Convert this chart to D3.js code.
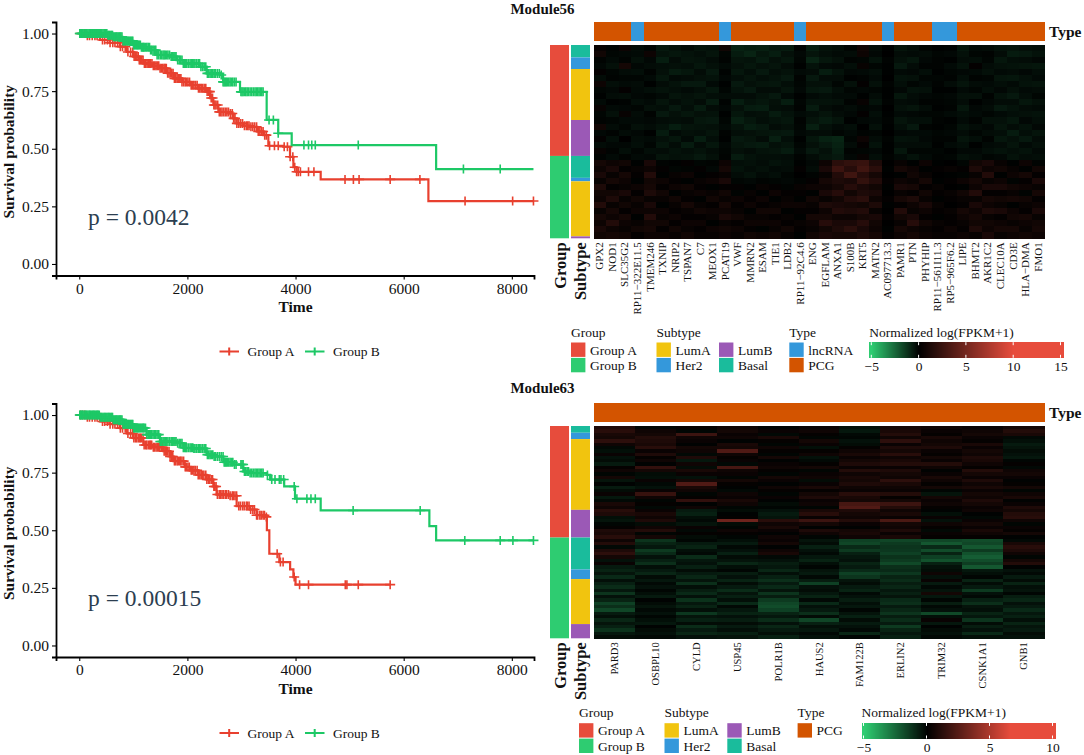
<!DOCTYPE html>
<html>
<head>
<meta charset="utf-8">
<script src="https://cdn.jsdelivr.net/npm/d3@7"></script>
<style>
  html, body { margin: 0; padding: 0; background: #fff; }
  svg { display: block; }
  text { font-family: "Liberation Serif", serif; fill: #111; }
</style>
</head>
<body>
<svg id="chart" width="1084" height="755"></svg>
<script>
/* survival curves */
const km56TimeA = [0,150,383,560,753,880,1000,1100,1185,1350,1493,1620,1740,1900,2048,2200,2357,2420,2480,2573,2788,2850,2911,3030,3158,3290,3405,3497,3775,3898,3960,4020,4465,6457,8400];
const km56SurvA = [1,.99,.972,.96,.943,.92,.90,.885,.87,.86,.849,.828,.805,.79,.776,.762,.748,.72,.69,.66,.653,.632,.61,.60,.595,.575,.559,.513,.509,.465,.42,.40,.367,.273,.273];
const km56TimeB = [0,383,520,629,800,1000,1150,1307,1431,1678,1800,1925,2233,2357,2603,2660,2942,2973,3435,3466,3680,3929,6600,8400];
const km56SurvB = [1,1,.993,.986,.968,.95,.94,.928,.907,.90,.885,.87,.856,.827,.82,.79,.79,.747,.747,.625,.567,.516,.412,.412];
const km63TimeA = [0,150,383,560,753,880,1000,1185,1350,1553,1680,1740,1950,2048,2200,2357,2480,2540,2788,2911,3158,3280,3435,3470,3515,3700,3900,3960,4000,5750];
const km63SurvA = [1,.99,.972,.96,.943,.92,.90,.87,.86,.843,.82,.80,.775,.76,.74,.72,.69,.655,.65,.605,.59,.565,.558,.50,.398,.362,.33,.297,.264,.264];
const km63TimeB = [0,383,629,800,1000,1246,1493,1800,1925,2110,2357,2480,2665,2850,3035,3158,3465,3530,3760,3790,3965,3990,4465,6475,6600,8400];
const km63SurvB = [1,.99,.98,.96,.944,.915,.885,.878,.858,.855,.828,.82,.795,.785,.755,.748,.74,.72,.72,.69,.69,.637,.586,.518,.456,.456];

/* censored times */
const censor56A = [20,60,100,150,190,240,290,330,380,430,470,520,570,620,660,710,760,800,850,900,950,990,1040,1090,1130,1180,1230,1280,1320,1370,1420,1470,1520,1570,1610,1660,1710,1760,1810,1860,1900,1960,2010,2070,2120,2180,2230,2280,2340,2390,2440,2490,2530,2590,2640,2700,2760,2830,2880,2950,3020,3090,3140,3210,3280,3340,3400,3460,3520,3610,3680,3790,3850,3900,3950,3985,4020,4050,4090,4240,4340,4915,5070,5175,5750,6300,7135,8015,8400,
    1015,1065,1110,1155,1205,1255,1300,1345,1395,1445,1495,1545,1590,1635,1685,1735,1785,1835,1880,1930,1985,2040,2095,2150,2205,2255,2310,2365,2415,2465,2510,2560,2615,2670,2730,2795,2855,2915,2985,3055,3115,3175,3245,3310,3370,3430];
const censor56B = [10,40,70,110,140,180,210,250,280,320,350,390,420,460,490,530,560,600,630,670,700,740,770,810,840,880,910,950,990,1020,1060,1090,1130,1170,1200,1250,1300,1340,1390,1440,1500,1550,1590,1640,1700,1750,1790,1850,1900,1950,1990,2050,2100,2140,2200,2250,2310,2370,2420,2470,2520,2590,2660,2700,2740,2790,2840,2900,2990,3030,3080,3130,3190,3250,3300,3350,3400,3510,3590,3680,4155,4240,4300,4365,5160,7105,7785,
    25,55,90,125,160,195,230,265,300,335,370,405,440,475,510,545,580,615,650,685,720,755,790,825,860,895,930,970,1005,1040,1075,1110,1150,1185,1225,1275,1320,1365,1415,1470,1525,1570,1615,1670,1725,1770,1820,1875,1925,1970,2020,2075,2120,2170,2225,2280,2340,2395,2445,2495,2555,2625,2680,2720,2765,2815,2870,3010,3055,3105,3160,3220,3275,3325,3375];
const censor63A = [20,60,100,150,190,240,290,330,380,430,470,520,570,620,660,710,760,800,850,900,950,990,1040,1090,1130,1180,1230,1280,1320,1370,1420,1470,1520,1570,1610,1660,1710,1760,1810,1860,1900,1960,2010,2070,2120,2180,2230,2280,2340,2390,2440,2490,2530,2590,2640,2700,2760,2830,2880,2950,3020,3090,3140,3210,3280,3340,3400,3460,3660,3720,3770,3975,4075,4240,4920,4950,5160,5750,
    1010,1060,1115,1150,1200,1250,1305,1340,1390,1445,1490,1540,1595,1630,1680,1730,1780,1830,1875,1930,1980,2035,2090,2145,2200,2255,2305,2360,2410,2465,2505,2555,2610,2665,2725,2790,2850,2910,2980,3050,3110,3170,3240,3300,3365,3425];
const censor63B = [10,40,70,110,140,180,210,250,280,320,350,390,420,460,490,530,560,600,630,670,700,740,770,810,840,880,910,950,990,1020,1060,1090,1130,1170,1200,1250,1300,1340,1390,1440,1500,1550,1590,1640,1700,1750,1790,1850,1900,1950,1990,2050,2100,2140,2200,2250,2310,2370,2420,2470,2520,2590,2660,2700,2740,2790,2840,2900,2990,3030,3080,3130,3190,3250,3300,3350,3400,3480,3560,3620,3700,3730,3780,3975,4025,4210,4285,4365,5065,6305,7130,7785,8020,8400,
    25,55,90,125,160,195,230,265,300,335,370,405,440,475,510,545,580,615,650,685,720,755,790,825,860,895,930,970,1005,1040,1075,1110,1150,1185,1225,1275,1320,1365,1415,1470,1525,1570,1615,1670,1725,1770,1820,1875,1925,1970,2020,2075,2120,2170,2225,2280,2340,2395,2445,2495,2555,2625,2680,2720,2765,2815,2870,3010,3055,3105,3160,3220,3275,3325,3375];

/* heatmap genes and annotations */
const genes56 = ["GPX2","NOD1","SLC35G2","RP11−322E11.5","TMEM246","TXNIP","NRIP2","TSPAN7","C7","MEOX1","PCAT19","VWF","MMRN2","ESAM","TIE1","LDB2","RP11−92C4.6","ENG","EGFLAM","ANXA1","S100B","KRT5","MATN2","AC097713.3","PAMR1","PTN","PHYHIP","RP11−561I11.3","RP5−965F6.2","LIPE","BHMT2","AKR1C2","CLEC10A","CD3E","HLA−DMA","FMO1"];
const types56 = ["PCG","PCG","PCG","lncRNA","PCG","PCG","PCG","PCG","PCG","PCG","lncRNA","PCG","PCG","PCG","PCG","PCG","lncRNA","PCG","PCG","PCG","PCG","PCG","PCG","lncRNA","PCG","PCG","PCG","lncRNA","lncRNA","PCG","PCG","PCG","PCG","PCG","PCG","PCG"];
const genes63 = ["PARD3","OSBPL10","CYLD","USP45","POLR1B","HAUS2","FAM122B","ERLIN2","TRIM32","CSNK1A1","GNB1"];
const types63 = genes63.map(() => "PCG");

const samples56 = ["Basal","Her2","LumA","LumB","Basal","Her2","LumA","LumB"];
const sampleCounts56 = [71,66,291,205,125,20,314,11];
const samples63 = ["Basal","Her2","LumA","LumB","Basal","Her2","LumA","LumB"];
const sampleCounts63 = [35,33,368,144,166,50,234,74];
const groupCounts56 = [633,470];
const groupCounts63 = [580,524];

/* expression estimates, samples by genes (unitNeg / unitPos below turn them into log units) */
const expr56 = [
[2,-2,3,-6,-3,-12,-9,-6,-10,-9,4,-16,-14,-15,-12,-13,-2,-14,-9,-7,-3,4,-6,-1,-10,-7,-3,-1,-2,-11,-5,-6,-9,-10,-8,-7],
[4,-3,-4,-5,3,-9,-11,-9,-7,-10,-3,-13,-17,-11,-14,-8,-4,-10,-7,-5,-6,3,-4,0,-6,-5,-6,-3,-4,-8,-3,-2,-6,-13,-12,-9],
[-2,-5,-2,-8,-4,-14,-6,-10,-9,-6,-2,-10,-9,-13,-8,-11,-3,-17,-11,-8,-2,-3,-9,-2,-8,-11,-4,-2,-1,-6,-7,-3,-11,-7,-6,-4],
[-4,-8,5,-4,-6,-7,-8,-7,-11,-8,-5,-8,-11,-8,-10,-6,-1,-9,-5,-4,-7,2,-3,-1,-12,-6,-2,-2,-5,-9,1,-6,-8,-9,-10,-11],
[1,-3,-6,-7,-2,-8,-13,-11,-6,-12,-2,-11,-7,-12,-7,-9,-5,-6,-14,-9,-4,-5,-7,-1,-5,-4,-7,-1,-3,-4,-5,-8,-5,-6,-4,-7],
[-6,-2,-3,-3,-5,-11,-5,-6,-8,-9,-4,-7,-10,-7,-9,-12,-2,-12,-6,-6,-1,-2,-5,0,-9,-8,-3,-3,-2,-7,-2,-3,-10,-11,-8,-5],
[3,-7,-5,-6,-1,-6,-9,-12,-12,-5,-1,-12,-8,-10,-11,-7,-3,-8,-8,-3,-8,1,-8,-2,-7,-3,-5,-2,-6,-10,-6,-5,-7,-5,-9,-10],
[-3,-4,1,-5,-7,-9,-7,-5,-7,-11,-3,-9,-12,-6,-6,-10,-4,-11,-12,-7,-3,-4,-3,-1,-4,-9,-8,-1,-1,-5,-3,-7,-4,-8,-5,-6],
[-1,-6,-7,-4,-3,-5,-10,-8,-10,-7,-6,-6,-6,-9,-12,-5,-1,-5,-7,-5,-5,-1,-6,-1,-11,-6,-4,-3,-4,-8,-8,-2,-9,-12,-7,-3],
[-5,-1,-2,-7,-5,-10,-6,-9,-6,-13,-2,-14,-9,-11,-8,-14,-3,-9,-9,-8,-2,2,-9,-2,-6,-5,-2,-2,-3,-6,-1,-4,-6,-6,-11,-8],
[2,-5,-4,-3,-8,-7,-12,-7,-13,-6,-4,-8,-13,-14,-7,-6,-2,-13,-6,-4,-6,-3,-4,0,-8,-10,-6,-1,-2,-11,-4,-6,-12,-9,-6,-5],
[-3,-8,2,-6,-2,-12,-8,-11,-8,-9,-1,-11,-7,-8,-13,-9,-5,-7,-10,-6,-4,1,-7,-1,-5,-4,-3,-3,-5,-7,-5,-3,-5,-7,-8,-9],
[-2,-3,-5,-5,-4,-6,-7,-6,-11,-12,-3,-15,-11,-7,-9,-11,-2,-10,-13,-10,-1,-4,-5,-2,-10,-7,-7,-2,-1,-5,-2,-8,-8,-11,-4,-7],
[4,-6,-3,-8,-6,-9,-14,-10,-9,-8,-5,-9,-14,-12,-6,-8,-3,-15,-8,-5,-7,0,-8,-1,-7,-12,-2,-1,-3,-9,-6,-4,-10,-6,-9,-4],
[-4,-2,-6,-4,-1,-13,-5,-8,-7,-10,-2,-7,-8,-10,-11,-12,-4,-6,-6,-3,-5,-2,-3,0,-4,-5,-5,-3,-4,-6,-3,-6,-7,-13,-7,-10],
[1,-7,0,-6,-5,-8,-11,-5,-14,-7,-1,-12,-10,-6,-15,-7,-1,-11,-16,-18,-3,3,-6,-2,-9,-8,-4,-2,-2,-10,-7,-2,-11,-8,-12,-6],
[-6,-4,-4,-7,-3,-11,-6,-13,-6,-11,-4,-10,-12,-13,-8,-10,-3,-8,-12,-16,-6,1,-9,-1,-6,-6,-6,-1,-5,-7,-1,-5,-6,-10,-5,-8],
[2,-2,-7,-3,-7,-6,-9,-7,-9,-6,-3,-8,-6,-9,-10,-13,-5,-12,-8,-14,-2,-3,-4,-1,-11,-3,-3,-3,-1,-4,-4,-7,-9,-7,-9,-5],
[-2,-5,-2,-5,-4,-10,-8,-9,-12,-8,-2,-13,-9,-7,-7,-6,-2,-6,-10,-12,-4,2,-7,-2,-5,-9,-5,-2,-3,-8,-6,-3,-4,-9,-6,-7],
[5,3,4,-1,6,-2,-1,1,-3,-2,3,-7,-8,-6,-9,-7,-1,-4,3,10,12,13,7,0,2,-1,3,-1,0,-3,4,6,2,-1,3,-2],
[3,6,1,2,3,1,-3,-2,1,-4,5,-9,-6,-8,-5,-6,1,-6,6,14,9,15,10,-1,5,3,-1,1,2,1,7,3,4,2,-1,4],
[6,2,5,1,8,-1,2,3,-1,1,2,-6,-9,-5,-7,-3,0,-2,2,8,15,9,5,0,-1,4,2,0,-1,-2,2,8,-1,3,5,1],
[2,5,3,-1,4,3,1,-1,2,3,6,-3,-4,-2,-3,-4,-2,1,5,7,6,12,8,1,3,2,5,-1,1,3,5,2,3,-2,1,6],
[7,1,2,3,5,1,3,4,1,-1,1,1,-1,2,1,-2,2,3,3,5,9,6,4,-1,6,5,1,2,0,-1,3,6,6,4,3,2],
[4,4,6,1,7,4,-1,2,3,2,4,-2,2,-1,3,1,1,-1,6,9,4,7,6,0,2,1,4,1,2,4,8,1,1,2,-2,5],
[3,7,2,4,2,2,4,1,-1,4,2,3,1,3,-1,2,-1,4,2,4,8,10,3,1,5,7,2,-1,1,2,2,5,4,5,4,1],
[8,2,4,2,6,-1,2,5,2,1,5,1,3,1,2,3,3,2,7,6,5,4,7,-1,1,3,6,2,0,1,6,3,2,-1,2,3],
[2,5,1,3,3,3,1,2,4,3,3,2,-1,4,4,-1,1,1,3,8,7,8,2,0,8,2,3,1,2,5,3,7,6,3,1,6],
[5,3,5,-1,8,2,3,1,1,2,6,4,2,2,1,2,-1,5,5,3,3,5,6,1,4,6,1,-1,1,3,5,2,1,4,5,2],
[3,8,3,2,4,4,1,3,3,-1,2,1,3,3,3,1,2,3,9,6,6,9,4,0,2,9,4,2,1,2,4,4,3,2,3,4],
[6,3,2,4,5,1,4,2,1,3,4,3,1,-1,2,4,1,2,4,7,10,6,3,-1,5,3,2,1,3,1,7,3,5,5,2,5],
[4,5,4,1,3,3,2,4,2,2,3,2,4,3,4,2,-1,4,6,5,5,7,5,1,3,5,3,2,2,3,2,6,2,3,4,3]
];
const expr63 = [
[6,-2,1,3,-1,2,-5,4,3,2,4],
[8,3,-2,4,2,3,-8,5,2,3,7],
[5,4,12,2,-3,1,-3,7,1,4,5],
[4,7,3,3,5,-2,-2,3,5,2,-3],
[9,6,2,-1,1,4,-6,9,3,1,-5],
[3,5,-1,5,-2,2,-4,2,4,5,-9],
[-3,8,4,4,3,-5,1,6,6,2,-7],
[-5,2,3,16,1,1,3,4,2,4,-4],
[2,6,-3,3,-2,3,5,8,1,3,-6],
[-6,1,6,1,4,-6,2,3,4,6,-8],
[-4,3,-8,2,-1,-3,4,5,2,5,-2],
[-9,-1,3,-3,2,1,6,7,7,3,1],
[1,10,-4,14,3,4,2,2,3,1,-3],
[3,4,5,3,1,-2,7,6,-1,7,3],
[-2,-4,2,2,-2,2,3,4,2,4,4],
[4,-5,-6,-2,4,3,5,3,5,2,2],
[-7,2,4,4,2,-4,4,9,3,6,-1],
[-1,-3,16,1,-1,2,6,5,1,3,1],
[-9,-6,5,-1,3,5,3,3,4,5,4],
[-4,2,3,-3,1,1,2,2,-2,2,-2],
[2,11,-2,3,-2,4,8,7,-7,4,3],
[-8,3,1,2,2,6,5,1,4,3,5],
[-3,-2,10,5,-1,2,4,4,2,6,-1],
[5,1,-1,3,-4,3,14,12,3,4,2],
[3,-3,3,-2,-2,-2,16,7,1,2,6],
[8,2,-9,-4,-6,5,6,3,-1,3,4],
[6,5,-11,-1,-9,8,4,5,-5,-1,7],
[-5,3,-5,1,-7,2,3,2,2,-3,8],
[-7,6,-3,22,8,12,7,15,-6,2,3],
[-2,-4,-7,-4,3,4,2,4,3,4,-2],
[1,3,2,-2,5,-1,-1,3,1,2,2],
[6,7,-3,3,2,6,4,6,-3,5,1],
[5,-2,1,1,-1,3,5,2,2,3,4],
[8,4,-4,-2,3,-2,3,5,1,1,-1],
[3,-18,-2,-5,2,-7,-22,-24,-24,-26,-3],
[7,-12,-9,-9,4,-4,-24,-20,-30,-24,5],
[-3,-8,-12,-3,-1,-11,-14,-18,-14,-30,8],
[6,-20,-5,-6,3,-6,-20,-19,-26,-20,6],
[9,-14,-3,-11,5,-3,-11,-22,-12,-28,3],
[4,-6,-15,-4,-3,-8,-8,-17,-22,-32,-2],
[-6,-11,-8,-7,-6,-12,-6,-20,-28,-26,4],
[2,-16,-6,-13,-10,-5,-12,-25,-11,-21,7],
[-9,-5,-11,-5,-8,-2,-9,-16,-6,-30,-1],
[-12,-9,-4,-2,-13,-7,-14,-14,-4,-8,-6],
[-7,-13,-9,-10,-5,-9,-22,-19,3,-5,-3],
[-14,-4,-13,-6,-11,-3,-18,-12,-6,-2,-9],
[-5,-8,-7,-12,-16,-10,-7,-15,2,-12,-4],
[-11,-3,-16,-4,-9,-22,-4,-10,-9,-4,-12],
[-15,-6,-5,-9,-14,-6,-9,-13,-3,-9,-5],
[-8,-2,-10,-15,-7,-4,-12,-8,-7,-20,-7],
[-18,-5,-14,-7,-18,-8,-3,-11,4,-6,-2],
[-6,-9,-6,-11,-10,-12,-6,-7,-8,-3,-10],
[-12,-1,-17,-5,-20,-3,-10,-14,-2,-11,-13],
[-22,-4,-8,-14,-24,-14,-5,-16,-10,-16,-6],
[-16,-7,-12,-3,-26,-6,-8,-9,-3,-7,-9],
[-24,-3,-5,-8,-22,-9,-2,-13,-6,-5,-14],
[-9,-6,-19,-12,-12,-16,-7,-18,-25,-12,-8],
[-5,-2,-7,-6,-8,-4,-11,-10,-5,-8,-11],
[-13,-5,-11,-10,-15,-24,-4,-15,2,-18,-5],
[-7,-8,-4,-4,-6,-11,-9,-9,-8,-4,-12],
[-11,-1,-15,-9,-13,-5,-6,-20,-1,-10,-7],
[-17,-4,-9,-5,-9,-8,-3,-12,-4,-6,-9],
[-8,-6,-13,-11,-5,-3,-13,-8,-6,-14,-4],
[-4,-3,-6,-7,-11,-6,-2,-11,-3,-5,-6]
];

const colors = { "Group A": "#e74c3c", "Group B": "#2ecc71", LumA: "#f1c40f", Her2: "#3498db", LumB: "#9b59b6", Basal: "#1abc9c", lncRNA: "#3498db", PCG: "#d35400" };
const lineRed = "#e8402f", lineGreen = "#1dc866";

const svg = d3.select("#chart");

function stepValue(times, surv, t) {
    const i = d3.bisectRight(times, t) - 1;
    return surv[Math.max(0, i)];
}

function drawKm(o) {
    const g = svg.append("g");
    const x = d3.scaleLinear().domain([-430, 8410]).range([56, 534]);
    const y = d3.scaleLinear().domain([-0.05, 1.05]).range([o.bottom, o.bottom - 253.5]);

    const curves = [
        { times: o.timeA, surv: o.survA, cens: o.censA, color: lineRed },
        { times: o.timeB, surv: o.survB, cens: o.censB, color: lineGreen }
    ];
    curves.forEach(c => {
        const line = d3.line().x(d => x(d[0])).y(d => y(d[1])).curve(d3.curveStepAfter);
        g.append("path")
            .attr("d", line(c.times.map((t, i) => [t, c.surv[i]])))
            .attr("fill", "none").attr("stroke", c.color).attr("stroke-width", 2.2);
        g.selectAll(null).data(c.cens).enter().append("path")
            .attr("d", d => {
                const px = x(d), py = y(stepValue(c.times, c.surv, d));
                return `M${px},${py - 4.5}V${py + 4.5}M${px - 5},${py}H${px + 5}`;
            })
            .attr("stroke", c.color).attr("stroke-width", 1.6).attr("fill", "none");
    });

    const yAxis = g.append("g").attr("transform", "translate(56,0)")
        .call(d3.axisLeft(y).tickValues([0, .25, .5, .75, 1]).tickFormat(d3.format(".2f")).tickSizeOuter(0).tickSize(4).tickPadding(3));
    const xAxis = g.append("g").attr("transform", `translate(0,${o.bottom})`)
        .call(d3.axisBottom(x).tickValues([0, 2000, 4000, 6000, 8000]).tickFormat(d3.format("d")).tickSizeOuter(0).tickSize(4).tickPadding(3));
    [yAxis, xAxis].forEach(a => {
        a.selectAll("text").style("font-family", "Liberation Serif").style("font-size", "15.5px").attr("fill", "#111");
        a.select(".domain").attr("stroke", "#000").attr("stroke-width", 1.8);
        a.selectAll(".tick line").attr("stroke", "#000").attr("stroke-width", 1.1);
    });

    g.append("text").attr("transform", `translate(14,${y(0.5) + 3}) rotate(-90)`)
        .attr("text-anchor", "middle").style("font-size", "15.5px").style("font-weight", "bold").text("Survival probability");
    g.append("text").attr("x", 295.5).attr("y", o.bottom + 36.5).attr("text-anchor", "middle")
        .style("font-size", "15.5px").style("font-weight", "bold").text("Time");
    g.append("text").attr("x", 88).attr("y", y(o.pValue) + 1).style("font-size", "23.5px").style("fill", "#2c3e50").text(o.pText);

    // line legend under the curves
    const ly = o.bottom + 76;
    [[219.5, 247.5, "Group A", lineRed], [305, 333, "Group B", lineGreen]].forEach(k => {
        g.append("path").attr("d", `M${k[0]},${ly}h19.5M${k[0] + 9.7},${ly - 4}v8`)
            .attr("stroke", k[3]).attr("stroke-width", 2).attr("fill", "none");
        g.append("text").attr("x", k[1]).attr("y", ly + 4.5).style("font-size", "13.5px").text(k[2]);
    });
}

function stackBar(g, x, w, top, bottom, names, counts) {
    const y = d3.scaleLinear().domain([0, d3.sum(counts)]).range([top, bottom]);
    let acc = 0;
    names.forEach((n, i) => {
        g.append("rect").attr("x", x).attr("width", w)
            .attr("y", y(acc)).attr("height", y(acc + counts[i]) - y(acc)).attr("fill", colors[n]);
        acc += counts[i];
    });
}

function drawHeat(o) {
    const g = svg.append("g");
    const left = 593.7, right = 1044.3;
    const x = d3.scaleBand().domain(o.genes).range([left, right]);
    const y = d3.scaleBand().domain(d3.range(o.expr.length)).range([o.top, o.bottom]);
    const color = d3.scaleLinear().domain([-5, 0, o.sat, o.max]).range(["#2ecc71", "#000", "#e74c3c", "#e74c3c"]);

    o.expr.forEach((row, r) => {
        g.selectAll(null).data(row).enter().append("rect")
            .attr("x", (d, i) => x(o.genes[i])).attr("y", y(r))
            .attr("width", x.bandwidth() + 0.4).attr("height", y.bandwidth() + 0.4)
            .attr("shape-rendering", "crispEdges")
            .attr("fill", d => color(d < 0 ? d / o.unitNeg : d / o.unitPos));
    });

    // type strip
    o.types.forEach((t, i) => {
        g.append("rect").attr("x", x(o.genes[i])).attr("width", x.bandwidth() + 0.4)
            .attr("y", o.typeTop).attr("height", 19.3).attr("fill", colors[t])
            .attr("shape-rendering", "crispEdges");
    });
    g.append("text").attr("x", 1049).attr("y", o.typeTop + 15).style("font-size", "15.5px").style("font-weight", "bold").text("Type");

    // sample strips
    stackBar(g, 550, 19, o.top, o.bottom, ["Group A", "Group B"], o.groupCounts);
    stackBar(g, 571, 19, o.top, o.bottom, o.samples, o.sampleCounts);

    g.append("text").attr("transform", `translate(565.5,${o.bottom + 4}) rotate(-90)`)
        .attr("text-anchor", "end").style("font-size", "16.5px").style("font-weight", "bold").text("Group");
    g.append("text").attr("transform", `translate(585.5,${o.bottom + 4}) rotate(-90)`)
        .attr("text-anchor", "end").style("font-size", "16.5px").style("font-weight", "bold").text("Subtype");

    // gene names
    g.selectAll(null).data(o.genes).enter().append("text")
        .attr("transform", d => `translate(${x(d) + x.bandwidth() / 2 + 3.5},${o.bottom + 4}) rotate(-90)`)
        .attr("text-anchor", "end").style("font-size", o.geneSize + "px").text(d => d);

    // annotation legends
    const L = o.legend, sw = 14.4, rowH = 15.4;
    const head = (tx, s) => g.append("text").attr("x", tx).attr("y", L.y + 4.5).style("font-size", "13.5px").text(s);
    const item = (sx, row, name) => {
        g.append("rect").attr("x", sx).attr("y", L.y + 10.5 + row * rowH).attr("width", sw).attr("height", sw)
            .attr("fill", colors[name]);
        g.append("text").attr("x", sx + 19).attr("y", L.y + 22.5 + row * rowH).style("font-size", "13.5px").text(name);
    };
    head(L.group, "Group");
    item(L.group, 0, "Group A"); item(L.group, 1, "Group B");
    head(L.subtype, "Subtype");
    item(L.subtype, 0, "LumA"); item(L.subtype, 1, "Her2");
    item(L.subtype2, 0, "LumB"); item(L.subtype2, 1, "Basal");
    head(L.type, "Type");
    L.typeNames.forEach((n, i) => item(L.type, i, n));

    // colour bar
    const cx = d3.scaleLinear().domain([-5, o.max]).range([L.barLeft + 2, L.barRight - 2.5]);
    head(L.barLeft, "Normalized log(FPKM+1)");
    const barTop = L.y + 10.2, barH = 15.6;
    const barCells = d3.range(L.barLeft, L.barRight, 1);
    g.selectAll(null).data(barCells).enter().append("rect")
        .attr("x", d => d).attr("y", barTop).attr("width", 1.2).attr("height", barH)
        .attr("shape-rendering", "crispEdges")
        .attr("fill", d => color(Math.max(-5, cx.invert(d))));
    const axis = g.append("g").attr("transform", `translate(0,${barTop + barH})`)
        .call(d3.axisBottom(cx).tickValues(o.barTicks).tickSize(0).tickPadding(4));
    axis.select(".domain").remove();
    axis.selectAll("text").style("font-family", "Liberation Serif").style("font-size", "13.5px").attr("fill", "#111");
    o.barTicks.forEach(t => {
        g.append("path").attr("d", `M${cx(t)},${barTop}v3M${cx(t)},${barTop + barH}v-3`).attr("stroke", "#fff").attr("stroke-width", 1);
    });
}

drawKm({ bottom: 275.5, timeA: km56TimeA, survA: km56SurvA, timeB: km56TimeB, survB: km56SurvB,
    censA: censor56A, censB: censor56B, pValue: 0.175, pText: "p = 0.0042" });
drawKm({ bottom: 657, timeA: km63TimeA, survA: km63SurvA, timeB: km63TimeB, survB: km63SurvB,
    censA: censor63A, censB: censor63B, pValue: 0.175, pText: "p = 0.00015" });

drawHeat({ genes: genes56, types: types56, expr: expr56, top: 45, bottom: 238.3, typeTop: 22,
    samples: samples56, sampleCounts: sampleCounts56, groupCounts: groupCounts56,
    sat: 10, max: 15, unitNeg: 20, unitPos: 5.5, barTicks: [-5, 0, 5, 10, 15], geneSize: 11,
    legend: { y: 332, group: 571, subtype: 656.5, subtype2: 719, type: 789.3, typeNames: ["lncRNA", "PCG"], barLeft: 869.3, barRight: 1063 } });
drawHeat({ genes: genes63, types: types63, expr: expr63, top: 426, bottom: 638.3, typeTop: 402.7,
    samples: samples63, sampleCounts: sampleCounts63, groupCounts: groupCounts63,
    sat: 6.6, max: 10, unitNeg: 14, unitPos: 7, barTicks: [-5, 0, 5, 10], geneSize: 10.5,
    legend: { y: 712.7, group: 579, subtype: 664.5, subtype2: 727.3, type: 797.6, typeNames: ["PCG"], barLeft: 861.5, barRight: 1055 } });

[["Module56", 13.5], ["Module63", 393]].forEach(t => {
    svg.append("text").attr("x", 542.5).attr("y", t[1]).attr("text-anchor", "middle")
        .style("font-size", "15px").style("font-weight", "bold").text(t[0]);
});
</script>
</body>
</html>
